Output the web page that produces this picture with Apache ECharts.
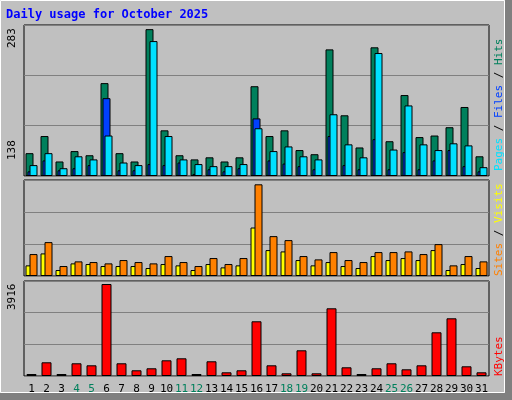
<!DOCTYPE html>
<html>
<head>
<meta charset="utf-8">
<script src="https://cdn.jsdelivr.net/npm/echarts@6/dist/echarts.min.js"></script>
<style>
  html, body { margin: 0; padding: 0; background: #c0c0c0; }
  #chart { width: 512px; height: 400px; }
</style>
</head>
<body>
<div id="chart"></div>
<script>
const days = ['1','2','3','4','5','6','7','8','9','10','11','12','13','14','15','16','17','18','19','20','21','22','23','24','25','26','27','28','29','30','31'];
const weekends = ['4','5','11','12','18','19','25','26'];

const hits   = [44,77,28,48,40,179,44,28,283,88,40,32,36,28,36,173,77,88,50,42,244,117,55,248,67,156,75,78,94,133,38];
const files  = [21,44,15,38,32,78,26,21,260,77,32,23,19,19,23,92,48,57,38,32,119,61,36,237,51,136,61,50,63,59,17];
const pages  = [9,30,11,15,21,150,11,11,23,21,26,4,13,9,15,111,30,24,19,13,77,21,13,71,13,46,13,30,50,19,9];
const sites  = [16,34,9,19,18,15,15,15,12,18,16,9,18,13,16,73,39,37,24,16,21,15,12,30,24,27,24,39,9,18,12];
const visits = [33,51,15,22,21,19,24,21,19,30,21,15,27,18,27,138,60,54,30,25,36,24,21,36,36,37,33,48,16,30,22];
const kbytes = [85,583,85,541,455,3916,541,243,328,668,753,85,626,157,243,2329,455,115,1094,115,2882,370,85,328,541,285,455,1860,2456,413,157];

const topMax = 291, midMax = 144.5, botMax = 4044;
const mono = 'DejaVu Sans Mono';

const chart = echarts.init(document.getElementById('chart'));

const grid = (top, height) => ({
  left: 24, width: 465, top, height, show: true,
  backgroundColor: '#c0c0c0', borderColor: '#000', borderWidth: 1
});
const xAx = (gi, show) => ({
  type: 'category', data: days, gridIndex: gi,
  axisLine: { show: false }, axisTick: { show: false },
  axisLabel: show ? {
    show: true, fontFamily: mono, fontSize: 11, margin: 8, interval: 0,
    color: (v) => weekends.includes(v) ? '#00805c' : '#000'
  } : { show: false }
});
const yAx = (gi, max) => ({
  type: 'value', gridIndex: gi, min: 0, max, interval: max / 3,
  axisLabel: { show: false }, axisLine: { show: false }, axisTick: { show: false },
  splitLine: { lineStyle: { color: '#808080', width: 1 } }
});
const bar = (data, color, xi, width, gap) => ({
  type: 'bar', data, xAxisIndex: xi, yAxisIndex: xi, barWidth: width, barGap: gap,
  itemStyle: { color, borderColor: '#000', borderWidth: 1 }, animation: false
});
const vText = (x, y, rich, text) => ({
  type: 'text', x, y, rotation: Math.PI / 2,
  style: { text, rich, align: 'left', verticalAlign: 'top', fontFamily: mono, fontSize: 11, fill: '#000' }
});
const rs = (c) => ({ fill: c, fontFamily: mono, fontSize: 11 });

chart.setOption({
  backgroundColor: '#c0c0c0',
  animation: false,
  grid: [grid(25, 151), grid(180, 96), grid(281, 95)],
  xAxis: [xAx(0, false), xAx(1, false), xAx(2, true)],
  yAxis: [yAx(0, topMax), yAx(1, midMax), yAx(2, botMax)],
  series: [
    bar(hits, '#00805c', 0, 8, '-75%'),
    bar(pages, '#0040ff', 0, 8, '-75%'),
    bar(files, '#00e0ff', 0, 8, '-75%'),
    bar(sites, '#ffff00', 1, 8, '-50%'),
    bar(visits, '#ff8000', 1, 8, '-50%'),
    bar(kbytes, '#ff0000', 2, 10, '0%')
  ],
  graphic: [
    { type: 'rect', shape: { x: 505, y: 0, width: 7, height: 400 }, style: { fill: '#808080' }, z: -10 },
    { type: 'rect', shape: { x: 0, y: 393, width: 512, height: 7 }, style: { fill: '#808080' }, z: -10 },
    { type: 'rect', shape: { x: 0.5, y: 0.5, width: 504, height: 392 }, style: { fill: 'none', stroke: '#fff' }, z: -9 },
    { type: 'text', x: 6, y: 9, style: { text: 'Daily usage for October 2025', fill: '#0000ff', fontFamily: mono, fontSize: 12, fontWeight: 'bold' } },
    vText(7, 48, {}, '283'),
    vText(7, 160, {}, '138'),
    vText(7, 310, {}, '3916'),
    vText(494, 171, { p: rs('#00e0ff'), f: rs('#0040ff'), h: rs('#00805c'), k: rs('#000') }, '{p|Pages}{k| / }{f|Files}{k| / }{h|Hits}'),
    vText(494, 276, { s: rs('#ff8000'), v: rs('#ffff00'), k: rs('#000') }, '{s|Sites}{k| / }{v|Visits}'),
    vText(494, 376, { b: rs('#ff0000') }, '{b|KBytes}')
  ]
});
</script>
</body>
</html>
